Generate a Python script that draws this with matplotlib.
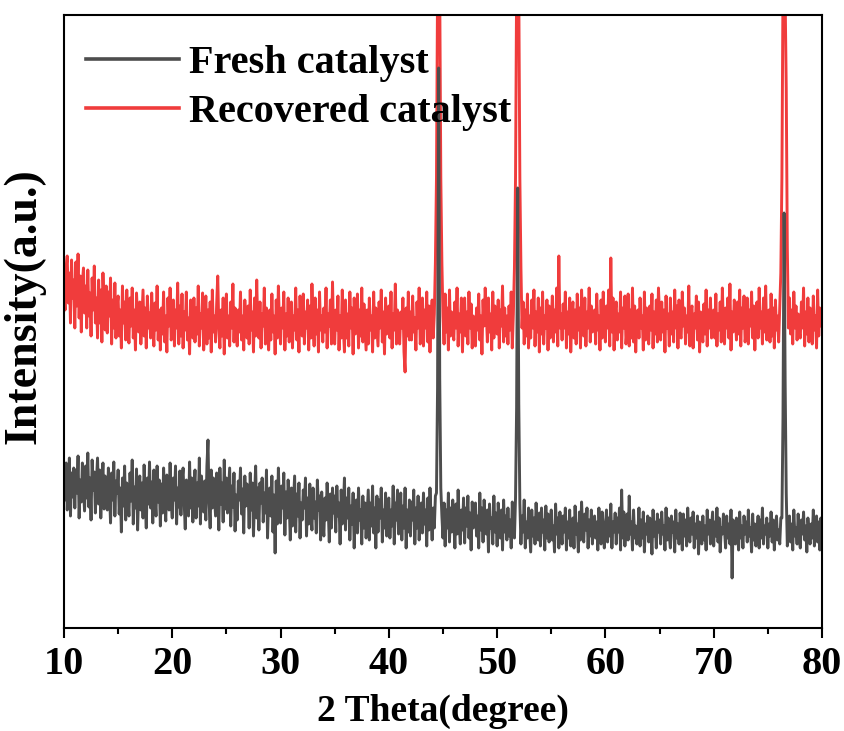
import numpy as np
import matplotlib
matplotlib.use("Agg")
import matplotlib.pyplot as plt

plt.rcParams['font.family'] = ['Liberation Serif', 'DejaVu Serif']
plt.rcParams['font.weight'] = 'bold'

# XRD patterns, one row per degree (step 0.1 deg, 10.0 .. 80.0)
fresh = [
    150, 128, 165, 118, 142, 170, 112, 155, 131, 160,
    120, 158, 135, 172, 110, 148, 126, 165, 140, 117,
    162, 130, 175, 121, 150, 108, 168, 138, 156, 115,
    147, 170, 124, 158, 110, 143, 165, 119, 152, 132,
    118, 160, 138, 105, 155, 128, 166, 112, 147, 135,
    158, 114, 140, 96, 150, 122, 162, 108, 145, 130,
    112, 155, 127, 168, 104, 141, 120, 159, 98, 138,
    152, 118, 145, 110, 163, 128, 100, 150, 124, 166,
    120, 146, 105, 158, 131, 112, 162, 126, 148, 102,
    144, 115, 160, 127, 107, 153, 134, 118, 165, 125,
    110, 150, 128, 162, 104, 140, 121, 157, 113, 147,
    160, 125, 99, 148, 133, 112, 166, 120, 150, 106,
    138, 158, 110, 145, 122, 170, 104, 152, 128, 116,
    147, 108, 162, 188, 125, 100, 158, 120, 150, 130,
    112, 155, 135, 98, 160, 124, 145, 106, 168, 119,
    150, 115, 138, 160, 102, 142, 121, 155, 97, 133,
    108, 147, 128, 160, 114, 139, 95, 152, 122, 144,
    138, 100, 155, 118, 145, 92, 130, 162, 110, 140,
    98, 145, 125, 150, 106, 135, 115, 158, 90, 130,
    140, 112, 152, 96, 133, 75, 147, 104, 160, 122,
    105, 142, 120, 155, 93, 136, 110, 148, 124, 88,
    140, 102, 128, 152, 96, 134, 112, 145, 90, 125,
    108, 138, 120, 150, 92, 130, 104, 144, 116, 98,
    140, 110, 126, 95, 148, 118, 132, 88, 136, 106,
    92, 130, 108, 145, 120, 86, 134, 100, 140, 115,
    132, 96, 142, 112, 125, 84, 138, 104, 118, 150,
    98, 130, 110, 140, 88, 122, 104, 135, 80, 120,
    128, 95, 140, 108, 118, 84, 132, 100, 125, 90,
    115, 138, 88, 125, 102, 142, 95, 120, 80, 132,
    96, 128, 110, 140, 86, 118, 100, 135, 92, 124,
    130, 90, 118, 102, 142, 84, 125, 108, 138, 94,
    110, 135, 88, 122, 100, 140, 80, 118, 96, 128,
    92, 126, 108, 138, 84, 120, 100, 132, 88, 115,
    125, 95, 135, 104, 118, 82, 130, 98, 140, 110,
    88, 120, 100, 132, 135, 240, 560, 250, 140, 112,
    90, 125, 82, 118, 100, 135, 86, 120, 96, 128,
    108, 80, 124, 94, 138, 104, 84, 118, 98, 130,
    85, 120, 102, 132, 90, 115, 78, 126, 100, 110,
    125, 92, 112, 80, 135, 98, 120, 86, 128, 104,
    94, 118, 76, 124, 100, 110, 84, 132, 96, 115,
    82, 125, 102, 90, 118, 78, 128, 96, 112, 88,
    120, 92, 108, 80, 126, 100, 90, 130, 220, 440,
    225, 125, 84, 112, 96, 128, 80, 106, 90, 120,
    98, 76, 118, 92, 110, 84, 125, 100, 88, 115,
    82, 120, 96, 108, 78, 122, 90, 114, 86, 104,
    118, 88, 102, 76, 124, 94, 110, 80, 116, 98,
    84, 112, 96, 120, 78, 106, 90, 118, 82, 100,
    110, 80, 122, 94, 104, 76, 116, 88, 126, 96,
    86, 114, 98, 120, 80, 108, 92, 118, 84, 104,
    112, 90, 106, 78, 120, 96, 84, 116, 100, 80,
    102, 118, 86, 110, 92, 124, 80, 106, 96, 115,
    84, 110, 96, 120, 78, 138, 90, 116, 82, 100,
    114, 88, 132, 94, 106, 78, 118, 90, 102, 84,
    96, 120, 82, 108, 90, 116, 76, 104, 94, 112,
    86, 110, 98, 74, 118, 92, 106, 80, 114, 96,
    108, 84, 116, 94, 102, 78, 120, 88, 110, 92,
    80, 112, 96, 106, 76, 118, 90, 104, 84, 115,
    100, 78, 114, 92, 108, 82, 120, 96, 86, 110,
    94, 116, 80, 104, 90, 112, 74, 106, 98, 84,
    112, 88, 102, 78, 118, 94, 108, 84, 100, 116,
    82, 106, 92, 120, 86, 110, 76, 100, 94, 114,
    98, 80, 112, 90, 104, 84, 118, 50, 108, 92,
    84, 110, 96, 78, 116, 90, 102, 80, 112, 94,
    106, 86, 118, 92, 100, 76, 114, 88, 104, 82,
    96, 112, 80, 108, 90, 120, 84, 102, 94, 110,
    80, 104, 92, 116, 86, 108, 78, 100, 112, 88,
    98, 84, 110, 110, 210, 415, 245, 135, 82, 96,
    112, 86, 104, 78, 118, 92, 100, 84, 114, 90,
    80, 108, 94, 116, 88, 102, 76, 110, 96, 84,
    104, 90, 118, 82, 100, 112, 86, 106, 78, 110,
    92,
]

recovered = [
    340, 318, 360, 372, 325, 355, 305, 368, 330, 348,
    300, 366, 322, 374, 310, 352, 296, 345, 360, 315,
    342, 300, 358, 312, 335, 292, 350, 318, 362, 305,
    330, 290, 348, 305, 338, 286, 355, 318, 298, 342,
    295, 336, 312, 350, 284, 328, 300, 345, 290, 322,
    332, 292, 318, 280, 342, 305, 326, 288, 338, 300,
    285, 330, 302, 340, 290, 318, 278, 335, 308, 296,
    326, 284, 312, 338, 292, 320, 280, 332, 300, 315,
    290, 335, 306, 282, 325, 298, 342, 288, 318, 278,
    320, 294, 336, 286, 312, 276, 330, 302, 340, 288,
    296, 328, 282, 318, 300, 345, 284, 322, 292, 334,
    280, 316, 298, 336, 288, 310, 274, 328, 304, 290,
    330, 286, 320, 294, 342, 282, 314, 300, 335, 278,
    300, 332, 284, 318, 290, 326, 276, 338, 296, 312,
    286, 324, 352, 300, 280, 318, 292, 330, 274, 316,
    334, 290, 312, 282, 326, 300, 344, 286, 320, 296,
    282, 318, 296, 336, 288, 312, 278, 328, 302, 290,
    322, 284, 338, 298, 316, 276, 330, 292, 348, 300,
    290, 326, 280, 314, 302, 340, 284, 320, 296, 278,
    318, 288, 334, 296, 312, 274, 328, 290, 342, 304,
    284, 320, 300, 336, 278, 314, 292, 330, 286, 310,
    326, 280, 312, 298, 340, 288, 318, 276, 332, 296,
    292, 334, 284, 316, 300, 328, 278, 322, 290, 344,
    306, 282, 330, 294, 318, 276, 336, 298, 312, 286,
    320, 296, 340, 280, 314, 302, 328, 284, 346, 292,
    284, 318, 298, 332, 278, 312, 290, 338, 300, 276,
    328, 290, 314, 282, 336, 300, 320, 274, 330, 294,
    296, 334, 280, 318, 292, 340, 286, 324, 302, 278,
    318, 284, 330, 298, 312, 276, 336, 290, 320, 300,
    282, 326, 300, 338, 286, 316, 274, 330, 294, 312,
    322, 290, 336, 280, 314, 298, 344, 284, 318, 296,
    284, 316, 300, 330, 276, 256, 320, 292, 336, 288,
    316, 288, 332, 296, 310, 278, 326, 300, 340, 284,
    294, 330, 282, 318, 300, 336, 286, 322, 276, 312,
    328, 290, 314, 365, 450, 640, 1400, 640, 450, 365,
    312, 284, 334, 296, 320, 278, 338, 292, 316, 300,
    288, 326, 300, 340, 282, 314, 296, 330, 276, 318,
    330, 292, 316, 284, 336, 300, 324, 280, 312, 296,
    282, 320, 298, 334, 288, 312, 274, 328, 302, 340,
    316, 286, 330, 296, 314, 278, 336, 290, 322, 300,
    294, 328, 280, 318, 302, 342, 286, 320, 292, 312,
    284, 322, 298, 336, 280, 314, 360, 450, 640, 1400,
    640, 450, 360, 300, 326, 284, 318, 292, 334, 280,
    312, 290, 328, 300, 338, 282, 316, 296, 330, 276,
    320, 294, 336, 284, 312, 300, 328, 278, 322, 290,
    304, 332, 286, 318, 296, 340, 282, 372, 300, 314,
    288, 324, 300, 336, 280, 316, 294, 330, 276, 312,
    326, 290, 318, 284, 334, 298, 320, 280, 338, 302,
    292, 330, 282, 316, 300, 340, 286, 322, 296, 310,
    318, 284, 334, 298, 312, 278, 328, 290, 336, 300,
    286, 322, 300, 338, 282, 370, 296, 330, 278, 316,
    326, 288, 314, 296, 336, 280, 320, 300, 332, 284,
    298, 334, 282, 318, 290, 340, 286, 322, 276, 312,
    318, 290, 330, 300, 312, 278, 336, 288, 320, 296,
    284, 322, 298, 334, 280, 316, 294, 328, 286, 340,
    312, 288, 326, 296, 318, 276, 332, 300, 314, 282,
    330, 294, 316, 286, 338, 300, 322, 280, 328, 292,
    290, 336, 302, 320, 284, 312, 296, 342, 282, 318,
    322, 280, 314, 300, 332, 288, 326, 276, 316, 298,
    286, 324, 294, 338, 282, 318, 300, 330, 290, 312,
    318, 290, 334, 282, 314, 298, 326, 286, 340, 300,
    284, 320, 300, 330, 290, 344, 278, 316, 296, 328,
    312, 288, 326, 294, 338, 282, 320, 300, 332, 286,
    296, 330, 284, 318, 302, 336, 290, 322, 278, 314,
    326, 290, 340, 300, 316, 284, 330, 296, 342, 288,
    300, 318, 286, 334, 292, 320, 280, 328, 298, 312,
    286, 322, 355, 450, 640, 1300, 630, 540, 380, 300,
    330, 294, 318, 284, 336, 300, 322, 288, 314, 296,
    290, 326, 300, 340, 282, 316, 294, 330, 286, 320,
    316, 284, 332, 298, 312, 280, 338, 292, 320, 302,
    310,
]

assert len(fresh) == 701 and len(recovered) == 701
two_theta = np.linspace(10, 80, len(fresh))

fig = plt.figure(figsize=(8.44, 7.31), dpi=100)
ax = fig.add_axes([0.0758, 0.1409, 0.8981, 0.8386])

l_rec, = ax.plot(two_theta, recovered, color='#F03C3C', lw=2.1, label='Recovered catalyst')
l_fre, = ax.plot(two_theta, fresh, color='#4D4D4D', lw=2.1, label='Fresh catalyst')

ax.set_xlim(10, 80)
ax.set_ylim(0, 613)
ax.set_xticks(np.arange(10, 81, 10))
ax.set_xticks(np.arange(15, 80, 10), minor=True)
ax.set_yticks([])
ax.tick_params(axis='x', which='major', direction='out', length=7, width=1.5,
               labelsize=29, pad=6)
ax.tick_params(axis='x', which='minor', direction='out', length=4, width=1.5)
for s in ax.spines.values():
    s.set_linewidth(1.5)

ax.set_xlabel('2 Theta(degree)', fontsize=27, fontweight='bold', labelpad=8)
ax.set_ylabel('Intensity(a.u.)', fontsize=33, fontweight='bold')
ax.yaxis.set_label_coords(-0.025, 0.525)

leg = ax.legend(handles=[l_fre, l_rec], loc='upper left', bbox_to_anchor=(0.029, 0.952),
                frameon=False, fontsize=29, handlelength=2.3, handletextpad=0.25,
                labelspacing=0.3, borderpad=0, borderaxespad=0)
for h in leg.legend_handles:
    h.set_linewidth(2.6)

fig.savefig('out.png', dpi=100)
